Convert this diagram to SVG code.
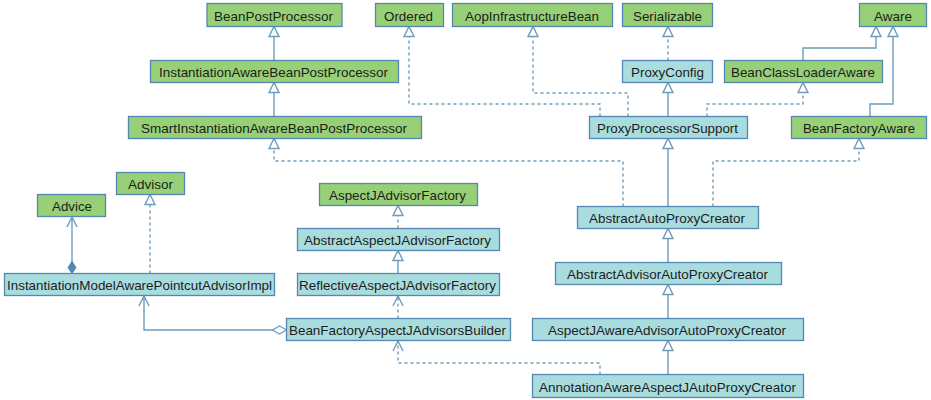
<svg xmlns="http://www.w3.org/2000/svg" width="931" height="400" viewBox="0 0 931 400">
<style>
.n rect{stroke:#5487b2;stroke-width:1.3}
.g rect{fill:#97d077}
.b rect{fill:#a9dcdf}
.n text{font-family:"Liberation Sans",Arial,sans-serif;font-size:13px;fill:#1c1c1c;text-anchor:middle}
#edges path{fill:none;stroke:#6f9cbb;stroke-width:1.4}
#edges .d{stroke-dasharray:3,3}
.t{marker-end:url(#tri)}
.o{marker-end:url(#open)}
</style>
<defs>
<marker id="tri" viewBox="0 0 12 12" refX="11" refY="6" markerWidth="12" markerHeight="12" markerUnits="userSpaceOnUse" orient="auto">
<path d="M1,1 L11,6 L1,11 Z" fill="#fff" stroke="#6f9cbb" stroke-width="1.4"/>
</marker>
<marker id="open" viewBox="0 0 12 12" refX="11" refY="6" markerWidth="12" markerHeight="12" markerUnits="userSpaceOnUse" orient="auto">
<path d="M1,1 L11,6 L1,11" fill="none" stroke="#6f9cbb" stroke-width="1.4"/>
</marker>
<marker id="fdia" viewBox="0 0 14 10" refX="1" refY="5" markerWidth="14" markerHeight="10" markerUnits="userSpaceOnUse" orient="auto">
<path d="M1,5 L7,1 L13,5 L7,9 Z" fill="#5487b2" stroke="#5487b2" stroke-width="1"/>
</marker>
<marker id="hdia" viewBox="0 0 16 10" refX="1" refY="5" markerWidth="16" markerHeight="10" markerUnits="userSpaceOnUse" orient="auto">
<path d="M1,5 L8,1 L15,5 L8,9 Z" fill="#fff" stroke="#6f9cbb" stroke-width="1.3"/>
</marker>
</defs>
<rect width="931" height="400" fill="#fff"/>
<g id="edges">
<path class="t" d="M274,60.5 V26.5"/>
<path class="t" d="M274,116.5 V82.5"/>
<path class="t d" d="M668,60.5 V26.5"/>
<path class="t" d="M668,116.5 V82.5"/>
<path class="t d" d="M600,116.5 V104 H409 V26.5"/>
<path class="t d" d="M628,116.5 V93 H533 V26.5"/>
<path class="t d" d="M707,116.5 V104 H803 V82.5"/>
<path class="t" d="M803,60.5 V48 H876 V26.5"/>
<path class="t" d="M870,116.5 V104 H893 V26.5"/>
<path class="t" d="M668,206.5 V138.5"/>
<path class="t d" d="M623,206.5 V161 H274 V138.5"/>
<path class="t d" d="M713,206.5 V161 H859 V138.5"/>
<path class="t" d="M668,262.5 V228.5"/>
<path class="t" d="M668,318.5 V284.5"/>
<path class="t" d="M668,374.5 V340.5"/>
<path class="o d" d="M600,374.5 V363 H398 V341"/>
<path class="o d" d="M398,318.5 V296"/>
<path class="t" d="M398,273.5 V250.5"/>
<path class="t d" d="M398,228.5 V205.5"/>
<path class="t d" d="M150,273.5 V194.5"/>
<path class="o" d="M72,273.5 V217" marker-start="url(#fdia)"/>
<path class="o" d="M286.5,330 H144 V296" marker-start="url(#hdia)"/>
</g>
<g id="BeanPostProcessor" class="n g"><rect x="207" y="3.5" width="135" height="23"/><text x="273.5" y="20.5" textLength="119" lengthAdjust="spacingAndGlyphs">BeanPostProcessor</text></g>
<g id="Ordered" class="n g"><rect x="375.5" y="3.5" width="68" height="23"/><text x="408.5" y="20.5" textLength="49" lengthAdjust="spacingAndGlyphs">Ordered</text></g>
<g id="AopInfrastructureBean" class="n g"><rect x="452.5" y="3.5" width="160" height="23"/><text x="532" y="20.5" textLength="134" lengthAdjust="spacingAndGlyphs">AopInfrastructureBean</text></g>
<g id="Serializable" class="n g"><rect x="622.5" y="3.5" width="90" height="23"/><text x="667.5" y="20.5" textLength="69" lengthAdjust="spacingAndGlyphs">Serializable</text></g>
<g id="Aware" class="n g"><rect x="859.5" y="3.5" width="67" height="23"/><text x="893" y="20.5" textLength="38" lengthAdjust="spacingAndGlyphs">Aware</text></g>
<g id="InstantiationAwareBeanPostProcessor" class="n g"><rect x="150.5" y="60.5" width="248" height="22"/><text x="273.5" y="77" textLength="229" lengthAdjust="spacingAndGlyphs">InstantiationAwareBeanPostProcessor</text></g>
<g id="ProxyConfig" class="n b"><rect x="622.5" y="60.5" width="90" height="22"/><text x="667.5" y="77" textLength="73" lengthAdjust="spacingAndGlyphs">ProxyConfig</text></g>
<g id="BeanClassLoaderAware" class="n g"><rect x="724.5" y="60.5" width="158" height="22"/><text x="803" y="77" textLength="144" lengthAdjust="spacingAndGlyphs">BeanClassLoaderAware</text></g>
<g id="SmartInstantiationAwareBeanPostProcessor" class="n g"><rect x="128.5" y="116.5" width="293" height="22"/><text x="274" y="133" textLength="266" lengthAdjust="spacingAndGlyphs">SmartInstantiationAwareBeanPostProcessor</text></g>
<g id="ProxyProcessorSupport" class="n b"><rect x="589.5" y="116.5" width="158" height="22"/><text x="667.5" y="133" textLength="141" lengthAdjust="spacingAndGlyphs">ProxyProcessorSupport</text></g>
<g id="BeanFactoryAware" class="n g"><rect x="791.5" y="116.5" width="135" height="22"/><text x="859" y="133" textLength="112" lengthAdjust="spacingAndGlyphs">BeanFactoryAware</text></g>
<g id="Advisor" class="n g"><rect x="116.5" y="172.5" width="68" height="22"/><text x="150.5" y="189" textLength="45" lengthAdjust="spacingAndGlyphs">Advisor</text></g>
<g id="Advice" class="n g"><rect x="37.5" y="194.5" width="68" height="22"/><text x="72" y="211" textLength="40" lengthAdjust="spacingAndGlyphs">Advice</text></g>
<g id="AspectJAdvisorFactory" class="n g"><rect x="319.5" y="183.5" width="158" height="22"/><text x="397.5" y="200" textLength="137" lengthAdjust="spacingAndGlyphs">AspectJAdvisorFactory</text></g>
<g id="AbstractAutoProxyCreator" class="n b"><rect x="577.5" y="206.5" width="181" height="22"/><text x="667" y="223" textLength="156" lengthAdjust="spacingAndGlyphs">AbstractAutoProxyCreator</text></g>
<g id="AbstractAspectJAdvisorFactory" class="n b"><rect x="297.5" y="228.5" width="202" height="22"/><text x="397.5" y="245" textLength="187" lengthAdjust="spacingAndGlyphs">AbstractAspectJAdvisorFactory</text></g>
<g id="AbstractAdvisorAutoProxyCreator" class="n b"><rect x="555.5" y="262.5" width="226" height="22"/><text x="667.5" y="279" textLength="201" lengthAdjust="spacingAndGlyphs">AbstractAdvisorAutoProxyCreator</text></g>
<g id="InstantiationModelAwarePointcutAdvisorImpl" class="n b"><rect x="4.5" y="273.5" width="270" height="22"/><text x="139.5" y="290" textLength="265" lengthAdjust="spacingAndGlyphs">InstantiationModelAwarePointcutAdvisorImpl</text></g>
<g id="ReflectiveAspectJAdvisorFactory" class="n b"><rect x="297.5" y="273.5" width="202" height="22"/><text x="397.5" y="290" textLength="197" lengthAdjust="spacingAndGlyphs">ReflectiveAspectJAdvisorFactory</text></g>
<g id="BeanFactoryAspectJAdvisorsBuilder" class="n b"><rect x="286.5" y="318.5" width="224" height="22"/><text x="397.5" y="335" textLength="217" lengthAdjust="spacingAndGlyphs">BeanFactoryAspectJAdvisorsBuilder</text></g>
<g id="AspectJAwareAdvisorAutoProxyCreator" class="n b"><rect x="532.5" y="318.5" width="271" height="22"/><text x="667" y="335" textLength="238" lengthAdjust="spacingAndGlyphs">AspectJAwareAdvisorAutoProxyCreator</text></g>
<g id="AnnotationAwareAspectJAutoProxyCreator" class="n b"><rect x="532.5" y="374.5" width="271" height="23"/><text x="667.5" y="391.5" textLength="257" lengthAdjust="spacingAndGlyphs">AnnotationAwareAspectJAutoProxyCreator</text></g>
</svg>
